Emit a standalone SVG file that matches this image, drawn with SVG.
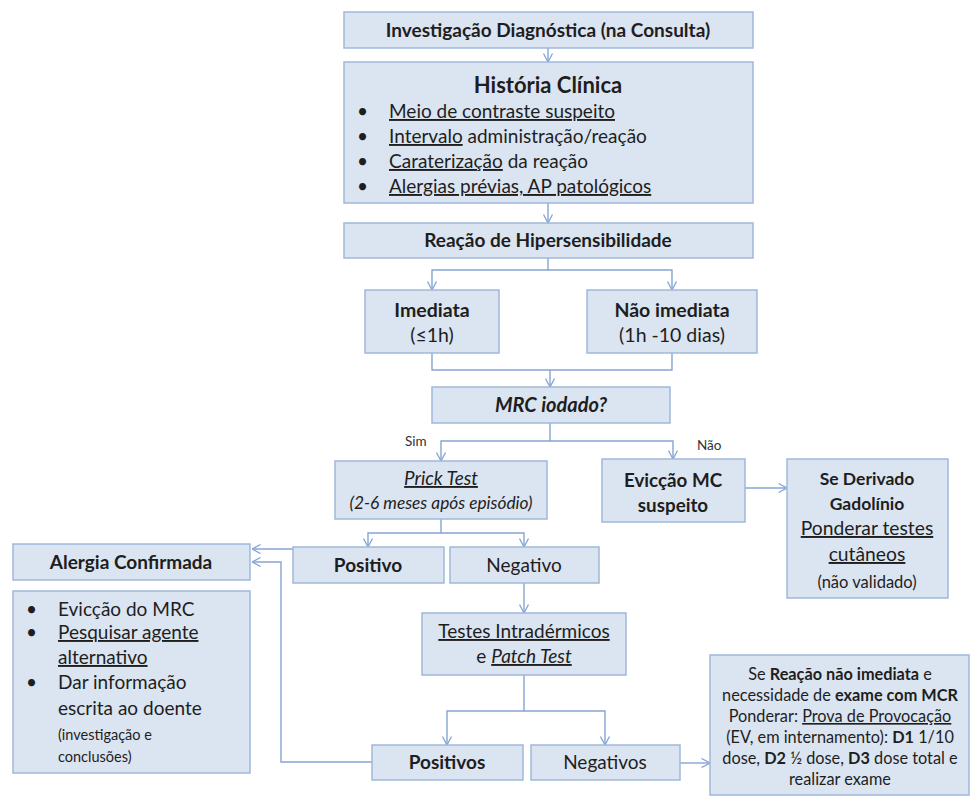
<svg xmlns="http://www.w3.org/2000/svg" width="974" height="796" viewBox="0 0 974 796">
<defs>
<marker id="arr" viewBox="0 0 10 10" markerWidth="10" markerHeight="10" refX="9.5" refY="5" orient="auto" markerUnits="userSpaceOnUse">
<path d="M1,0.5 L9.5,5 L1,9.5" fill="none" stroke="#86a5d3" stroke-width="1.3"/>
</marker>
</defs>
<style>
.box{fill:#dbe4f1;stroke:#a0b8da;stroke-width:1.5}
.t{font-family:Lato,"Open Sans","Liberation Sans",sans-serif;fill:#1e1e1e;font-size:19px}
.c{text-anchor:middle}
.b{font-weight:bold}
.i{font-style:italic}
.u{text-decoration:underline}
.s{font-size:14.5px}
.lbl{font-size:13.5px;fill:#333}
.h{font-size:22px}
.m{font-size:19.5px}
.r{font-size:16.3px}
.con{fill:none;stroke:#86a5d3;stroke-width:1.4}
</style>
<rect width="974" height="796" fill="#ffffff"/>

<g id="connectors">
<path class="con" d="M548,48 V62" marker-end="url(#arr)"/>
<path class="con" d="M548,203 V223" marker-end="url(#arr)"/>
<path class="con" d="M548,258 V270 H432 V290" marker-end="url(#arr)"/>
<path class="con" d="M548,270 H672 V290" marker-end="url(#arr)"/>
<path class="con" d="M432,353 V370 H672 V353"/>
<path class="con" d="M550,370 V387" marker-end="url(#arr)"/>
<path class="con" d="M550,423 V441 H441 V461" marker-end="url(#arr)"/>
<path class="con" d="M550,441 H673 V459" marker-end="url(#arr)"/>
<path class="con" d="M441,519 V533 H368 V547" marker-end="url(#arr)"/>
<path class="con" d="M441,533 H524 V547" marker-end="url(#arr)"/>
<path class="con" d="M745,488 H787" marker-end="url(#arr)"/>
<path class="con" d="M293,549 H252" marker-end="url(#arr)"/>
<path class="con" d="M372,762 H281 V562 H252" marker-end="url(#arr)"/>
<path class="con" d="M524,583 V613" marker-end="url(#arr)"/>
<path class="con" d="M524,675 V711 H447 V745" marker-end="url(#arr)"/>
<path class="con" d="M524,711 H605 V745" marker-end="url(#arr)"/>
<path class="con" d="M680,763 H710" marker-end="url(#arr)"/>
<text class="t lbl" x="405" y="446">Sim</text>
<text class="t lbl" x="697" y="450">Não</text>
</g>

<g id="investigacao">
<rect class="box" x="344" y="12" width="409" height="36"/>
<text class="t b c" x="548" y="37">Investigação Diagnóstica (na Consulta)</text>
</g>

<g id="historia">
<rect class="box" x="344" y="62" width="409" height="141"/>
<text class="t b c h" x="548" y="93">História Clínica</text>
<text class="t" x="357" y="118">•</text>
<text class="t" x="389" y="118"><tspan class="u">Meio de contraste suspeito</tspan></text>
<text class="t" x="357" y="143">•</text>
<text class="t" x="389" y="143"><tspan class="u">Intervalo</tspan> administração/reação</text>
<text class="t" x="357" y="168">•</text>
<text class="t" x="389" y="168"><tspan class="u">Caraterização</tspan> da reação</text>
<text class="t" x="357" y="193">•</text>
<text class="t" x="389" y="193"><tspan class="u">Alergias prévias, AP patológicos</tspan></text>
</g>

<g id="reacao">
<rect class="box" x="344" y="223" width="409" height="35"/>
<text class="t b c" x="548" y="247">Reação de Hipersensibilidade</text>
</g>

<g id="imediata">
<rect class="box" x="365" y="290" width="134" height="63"/>
<text class="t b c m" x="432" y="317">Imediata</text>
<text class="t c m" x="432" y="342">(≤1h)</text>
</g>

<g id="nao-imediata">
<rect class="box" x="587" y="290" width="170" height="63"/>
<text class="t b c m" x="672" y="317">Não imediata</text>
<text class="t c m" x="672" y="342">(1h -10 dias)</text>
</g>

<g id="mrc">
<rect class="box" x="432" y="387" width="238" height="36"/>
<text class="t b i c" x="551" y="412" style="font-size:20px">MRC iodado?</text>
</g>

<g id="prick">
<rect class="box" x="335" y="461" width="212" height="58"/>
<text class="t i c" x="441" y="485" style="font-size:18.8px"><tspan class="u">Prick Test</tspan></text>
<text class="t i c" x="441" y="509" style="font-size:17.3px">(2-6 meses após episódio)</text>
</g>

<g id="eviccao">
<rect class="box" x="602" y="459" width="143" height="63"/>
<text class="t b c" x="673" y="487" style="font-size:18.8px">Evicção MC</text>
<text class="t b c" x="673" y="512" style="font-size:18.8px">suspeito</text>
</g>

<g id="gadolinio">
<rect class="box" x="787" y="459" width="161" height="139"/>
<text class="t b c" x="867" y="485" style="font-size:17.5px">Se Derivado</text>
<text class="t b c" x="867" y="510" style="font-size:17.5px">Gadolínio</text>
<text class="t c" x="867" y="535" style="font-size:19.3px"><tspan class="u">Ponderar testes</tspan></text>
<text class="t c" x="867" y="561" style="font-size:19.3px"><tspan class="u">cutâneos</tspan></text>
<text class="t c" x="867" y="588" style="font-size:16.5px">(não validado)</text>
</g>

<g id="alergia">
<rect class="box" x="13" y="544" width="237" height="36"/>
<text class="t b c" x="131" y="569">Alergia Confirmada</text>
</g>

<g id="alergia-acoes">
<rect class="box" x="13" y="591" width="237" height="182"/>
<text class="t" x="26" y="616">•</text>
<text class="t" x="58" y="616">Evicção do MRC</text>
<text class="t" x="26" y="639">•</text>
<text class="t" x="58" y="639"><tspan class="u">Pesquisar agente</tspan></text>
<text class="t" x="58" y="664"><tspan class="u">alternativo</tspan></text>
<text class="t" x="26" y="689">•</text>
<text class="t" x="58" y="689">Dar informação</text>
<text class="t" x="58" y="715">escrita ao doente</text>
<text class="t s" x="58" y="740">(investigação e</text>
<text class="t s" x="58" y="762">conclusões)</text>
</g>

<g id="positivo">
<rect class="box" x="293" y="547" width="151" height="36"/>
<text class="t b c" x="368" y="572">Positivo</text>
</g>

<g id="negativo">
<rect class="box" x="450" y="547" width="149" height="36"/>
<text class="t c" x="524" y="572">Negativo</text>
</g>

<g id="testes">
<rect class="box" x="422" y="613" width="204" height="62"/>
<text class="t c" x="524" y="638"><tspan class="u">Testes Intradérmicos</tspan></text>
<text class="t c" x="524" y="663">e <tspan class="i u">Patch Test</tspan></text>
</g>

<g id="positivos">
<rect class="box" x="372" y="745" width="151" height="35"/>
<text class="t b c" x="447" y="769">Positivos</text>
</g>

<g id="negativos">
<rect class="box" x="531" y="745" width="149" height="35"/>
<text class="t c" x="605" y="769">Negativos</text>
</g>

<g id="provocacao">
<rect class="box" x="710" y="655" width="259" height="140"/>
<text class="t c r" x="840" y="680">Se <tspan class="b">Reação não imediata</tspan> e</text>
<text class="t c r" x="840" y="701">necessidade de  <tspan class="b">exame com MCR</tspan></text>
<text class="t c r" x="840" y="722">Ponderar: <tspan class="u">Prova de Provocação</tspan></text>
<text class="t c r" x="840" y="743">(EV, em internamento): <tspan class="b">D1</tspan> 1/10</text>
<text class="t c r" x="840" y="764">dose, <tspan class="b">D2</tspan> ½ dose, <tspan class="b">D3</tspan> dose total e</text>
<text class="t c r" x="840" y="785">realizar exame</text>
</g>
</svg>
